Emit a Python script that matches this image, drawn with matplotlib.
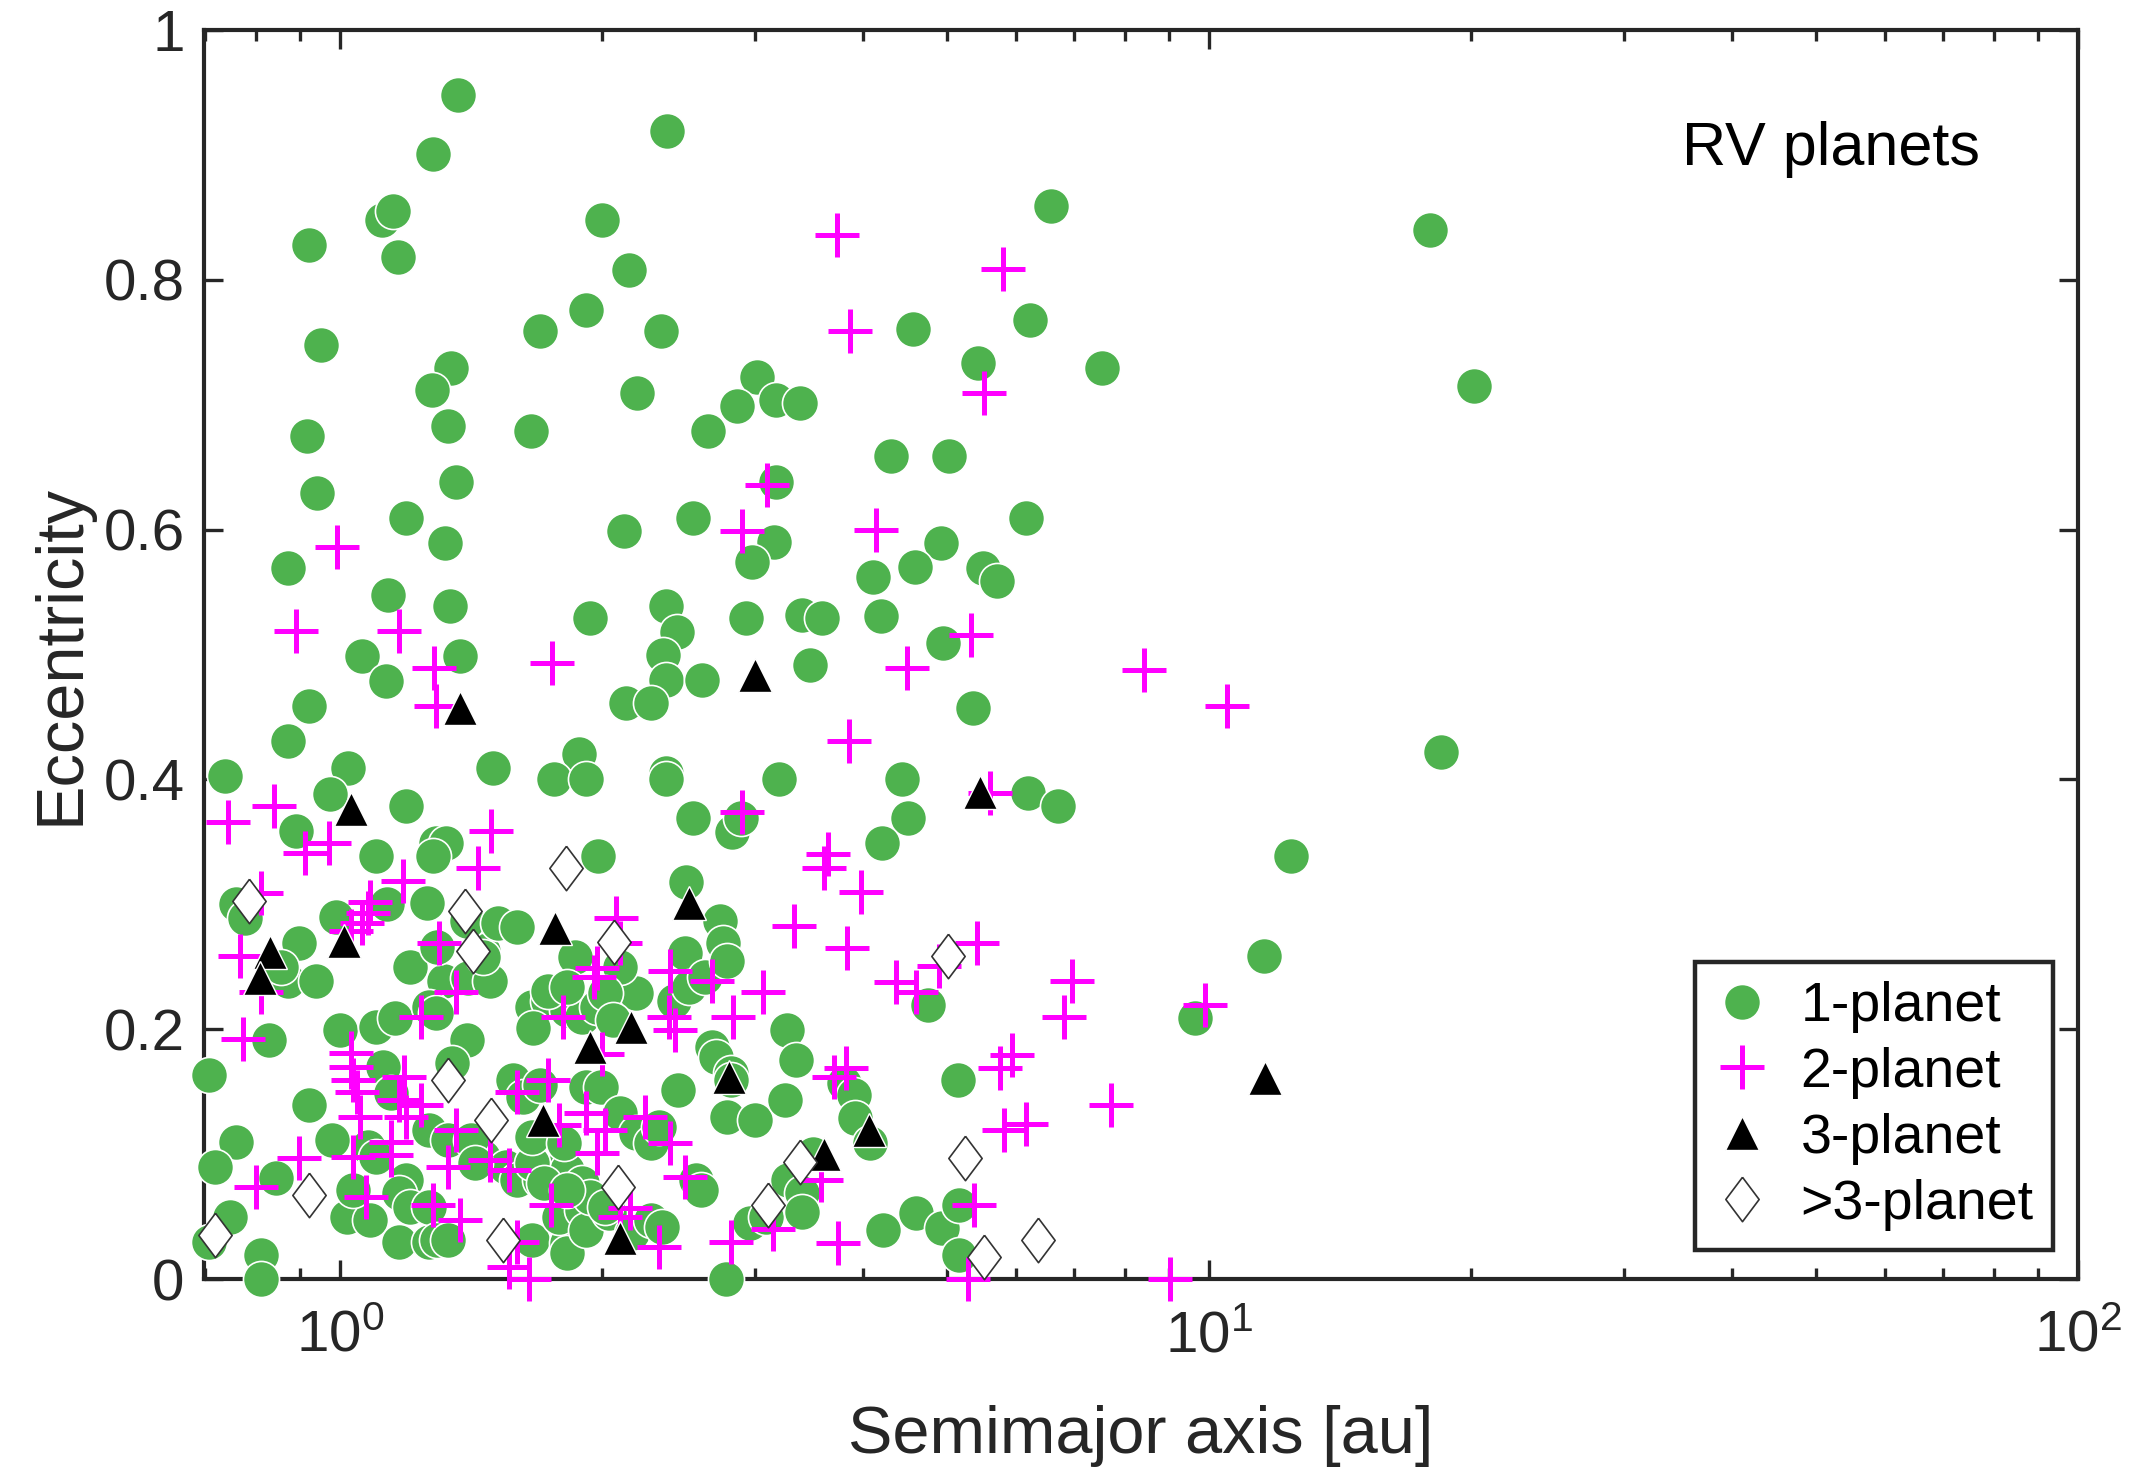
import matplotlib
matplotlib.use("Agg")
import matplotlib.pyplot as plt
from matplotlib.ticker import LogLocator, FixedLocator, NullLocator, LogFormatterSciNotation

plt.rcParams['font.family'] = ['Liberation Sans', 'DejaVu Sans']
plt.rcParams['mathtext.fontset'] = 'custom'
plt.rcParams['mathtext.rm'] = 'Liberation Sans'
plt.rcParams['mathtext.it'] = 'Liberation Sans:italic'
plt.rcParams['mathtext.bf'] = 'Liberation Sans:bold'
plt.rcParams['mathtext.default'] = 'regular'

# ---------------- data: (semimajor axis [au], eccentricity) ----------------
a1 = [1.366, 2.376, 1.279, 1.119, 1.150, 0.921, 1.166, 2.0, 2.149, 1.919, 1.697, 2.338,
      0.951, 1.341, 1.275, 2.199, 3.015, 2.863, 3.178, 3.38, 2.654, 1.331, 1.658, 0.917,
      6.58, 4.565, 6.22, 5.42, 7.53,
      17.97, 20.2, 18.5, 12.41, 11.57, 9.63,
      0.941, 1.359, 1.19, 1.32, 0.871, 1.135, 1.34, 1.06, 1.129, 1.373, 0.921, 0.871,
      0.738, 1.021, 0.973, 1.498, 1.19, 0.89, 1.886, 1.765, 1.919, 2.371, 2.371, 3.20,
      2.546, 2.823, 2.893, 1.98, 1.099, 1.288, 1.326, 1.28, 2.50, 3.176, 2.549, 2.121,
      3.16, 2.98, 1.94, 2.371, 2.44, 2.352, 2.371, 2.61, 2.134, 2.279, 2.93,
      4.31, 5.02, 6.16, 4.92, 4.59, 4.10, 5.50, 5.70, 3.40, 3.59, 4.19, 3.47, 4.94,
      5.35, 4.43, 4.50, 4.20, 6.19, 6.70,
      0.76, 0.777, 0.897, 0.872, 0.856, 0.939, 0.829, 0.707, 0.99, 1.133, 1.26, 1.0,
      1.099, 1.158, 1.121, 1.144, 0.92, 0.76, 0.718, 0.844, 0.748, 0.707, 0.811, 0.811,
      0.978, 1.077, 1.099, 1.018, 1.082, 1.168, 1.266, 1.204, 1.319, 1.402, 1.489,
      1.292, 1.46, 1.40, 1.52, 1.60, 1.46, 1.266, 1.29, 1.40, 1.346, 1.266, 1.332,
      1.46, 1.551, 1.60, 1.699, 1.734, 1.19, 1.168, 1.204, 1.266, 1.292, 1.332, 1.415,
      1.43, 1.665, 1.824, 1.824, 1.788, 1.899, 1.919, 2.04, 2.167, 2.28, 2.35, 2.778,
      2.967, 3.09, 1.824, 1.899, 1.937, 2.018, 1.665, 1.716, 1.824, 1.665, 1.734,
      1.824, 1.899, 1.978, 2.08, 2.19, 1.862, 1.734, 1.824, 2.10, 2.018, 2.06, 1.919,
      1.995, 2.10, 2.19, 2.28, 2.33, 2.497, 2.42, 2.52, 2.63, 2.735, 2.76, 2.79, 2.68,
      2.71, 2.82, 2.82, 2.79, 3.0, 2.45, 2.57, 2.60, 3.27, 3.35, 3.25, 3.28, 1.58,
      1.665, 1.81, 1.034, 1.668, 1.625, 1.70,
      4.75, 5.14, 3.80, 3.90, 3.91, 4.07, 3.5, 3.40, 3.40, 4.21, 4.60, 4.93, 5.15, 5.16]
e1 = [0.948, 0.919, 0.901, 0.848, 0.855, 0.828, 0.818, 0.848, 0.808, 0.776, 0.759, 0.759,
      0.748, 0.729, 0.712, 0.709, 0.722, 0.699, 0.704, 0.701, 0.679, 0.683, 0.679, 0.675,
      0.859, 0.761, 0.768, 0.733, 0.729,
      0.84, 0.715, 0.422, 0.339, 0.259, 0.209,
      0.629, 0.638, 0.609, 0.589, 0.569, 0.548, 0.539, 0.499, 0.479, 0.499, 0.459, 0.431,
      0.403, 0.409, 0.388, 0.409, 0.379, 0.359, 0.42, 0.40, 0.40, 0.405, 0.40, 0.40,
      0.369, 0.358, 0.369, 0.339, 0.339, 0.349, 0.349, 0.339, 0.318, 0.638, 0.609, 0.599,
      0.59, 0.574, 0.529, 0.539, 0.518, 0.50, 0.48, 0.48, 0.461, 0.461, 0.529,
      0.659, 0.659, 0.609, 0.589, 0.570, 0.562, 0.569, 0.559, 0.532, 0.529, 0.531, 0.492, 0.509,
      0.457, 0.40, 0.369, 0.349, 0.389, 0.379,
      0.30, 0.289, 0.269, 0.239, 0.25, 0.239, 0.191, 0.163, 0.29, 0.30, 0.301, 0.199,
      0.202, 0.209, 0.17, 0.149, 0.139, 0.11, 0.09, 0.081, 0.05, 0.03, 0.019, 0.0,
      0.111, 0.106, 0.098, 0.05, 0.047, 0.03, 0.03, 0.25, 0.239, 0.241, 0.239,
      0.266, 0.263, 0.287, 0.285, 0.282, 0.258, 0.218, 0.213, 0.191, 0.173, 0.119, 0.111,
      0.098, 0.09, 0.079, 0.079, 0.085, 0.079, 0.069, 0.058, 0.058, 0.031, 0.031, 0.111,
      0.093, 0.031, 0.029, 0.021, 0.05, 0.055, 0.039, 0.053, 0.037, 0.047, 0.042, 0.0,
      0.045, 0.05, 0.087, 0.077, 0.066, 0.058, 0.093, 0.077, 0.071, 0.218, 0.223,
      0.215, 0.21, 0.218, 0.221, 0.229, 0.258, 0.231, 0.234, 0.25, 0.229, 0.207, 0.154,
      0.154, 0.133, 0.117, 0.109, 0.122, 0.261, 0.223, 0.234, 0.242, 0.287, 0.269, 0.255, 0.186,
      0.178, 0.165, 0.159, 0.13, 0.127, 0.151, 0.079, 0.071, 0.199, 0.175, 0.143, 0.079, 0.159,
      0.114, 0.109, 0.071, 0.201, 0.146, 0.155,
      0.219, 0.159, 0.157, 0.147, 0.129, 0.109, 0.10, 0.069, 0.054, 0.039, 0.053, 0.041, 0.059, 0.019]

a2 = [3.73, 5.79, 3.86, 5.51,
      3.1, 2.90, 0.992, 0.89, 1.169, 1.282, 1.29, 1.753, 0.744, 0.84, 0.912, 0.971,
      1.492, 1.44, 1.181, 2.90,
      4.14, 5.32, 4.49, 8.42, 10.5, 3.85, 5.6, 3.64, 3.61, 3.98,
      3.33, 3.83, 4.36, 4.60, 4.89, 5.41, 6.96, 6.81, 9.89, 5.93, 5.75, 7.71, 5.81,
      6.16, 3.82, 3.70, 3.58, 3.74, 5.36, 5.28, 9.02,
      0.811, 1.082, 1.077, 1.06, 1.029, 0.767, 0.811, 0.773, 1.299, 1.359, 1.239,
      1.029, 1.029, 1.034, 1.045, 1.055, 1.034, 1.186, 1.168, 1.24, 1.19, 0.897, 0.80,
      1.071, 1.144, 1.144, 1.359, 1.332, 1.49, 1.566, 1.279, 1.373, 1.60, 1.566, 1.65,
      2.08, 2.10, 1.978, 1.96, 1.805, 1.734, 1.60, 2.0, 1.919, 2.02, 1.978, 1.788,
      2.245, 2.40, 2.40, 2.68, 2.39, 2.43, 3.07, 2.83, 1.75, 2.157, 2.33, 2.495, 2.82,
      3.15, 2.10]
e2 = [0.836, 0.809, 0.759, 0.709,
      0.636, 0.599, 0.586, 0.519, 0.519, 0.489, 0.459, 0.493, 0.366, 0.379, 0.341, 0.349,
      0.359, 0.329, 0.319, 0.374,
      0.60, 0.516, 0.489, 0.488, 0.459, 0.431, 0.389, 0.34, 0.329, 0.31,
      0.283, 0.265, 0.238, 0.23, 0.251, 0.269, 0.239, 0.21, 0.219, 0.179, 0.169, 0.139, 0.119,
      0.124, 0.169, 0.162, 0.079, 0.029, 0.059, 0.0, 0.0,
      0.309, 0.302, 0.293, 0.285, 0.279, 0.259, 0.23, 0.192, 0.269, 0.23, 0.21,
      0.181, 0.17, 0.159, 0.15, 0.13, 0.098, 0.162, 0.143, 0.139, 0.13, 0.097, 0.074,
      0.066, 0.11, 0.099, 0.119, 0.09, 0.095, 0.087, 0.059, 0.047, 0.03, 0.01, 0.0,
      0.289, 0.269, 0.249, 0.242, 0.21, 0.159, 0.15, 0.18, 0.133, 0.119, 0.101, 0.123,
      0.13, 0.109, 0.247, 0.239, 0.21, 0.199, 0.23, 0.21, 0.059, 0.057, 0.026, 0.082, 0.03,
      0.04, 0.05]

a3 = [1.373, 3.0, 1.03, 0.83, 0.81, 1.011, 1.766, 2.52, 2.163, 1.94, 1.713, 2.806,
      2.10, 5.45, 11.6, 4.06, 3.61]
e3 = [0.457, 0.484, 0.376, 0.262, 0.241, 0.271, 0.281, 0.301, 0.202, 0.186, 0.127, 0.162,
      0.033, 0.39, 0.161, 0.119, 0.10]

a4 = [1.818, 0.786, 1.392, 1.424, 2.066, 1.332, 1.494, 0.92, 0.718, 1.54, 2.087, 3.105,
      3.38, 5.01, 5.24, 5.51, 6.36]
e4 = [0.329, 0.303, 0.295, 0.263, 0.27, 0.159, 0.127, 0.067, 0.035, 0.031, 0.074, 0.059,
      0.094, 0.259, 0.097, 0.018, 0.031]

labels = ['1-planet', '2-planet', '3-planet', '>3-planet']
x_ticks = [1, 10, 100]
y_ticks = [0, 0.2, 0.4, 0.6, 0.8, 1]
y_ticklabels = ['0', '0.2', '0.4', '0.6', '0.8', '1']

# ---------------- figure ----------------
AX = '#262626'
fig = plt.figure(figsize=(2134 / 200, 1471 / 200), dpi=200)
ax = fig.add_axes([0.0956, 0.1305, 0.8782, 0.8491])

ax.plot(a1, e1, linestyle='none', marker='o', ms=13, mfc='#4EB24E', mec='white',
        mew=0.6, zorder=3, clip_on=False, label=labels[0])
ax.plot(a2, e2, linestyle='none', marker='+', ms=15.5, mec='#FF00FF', mew=1.8,
        zorder=4, clip_on=False, label=labels[1])
ax.plot(a3, e3, linestyle='none', marker='^', ms=12.5, mfc='black', mec='white',
        mew=0.5, zorder=5, clip_on=False, label=labels[2])
diamond = [(0, 1), (0.75, 0), (0, -1), (-0.75, 0), (0, 1)]
ax.plot(a4, e4, linestyle='none', marker=diamond, ms=16, mfc='white', mec='#333333',
        mew=0.6, zorder=6, clip_on=False, label=labels[3])

ax.set_xscale('log')
ax.set_xlim(0.6975, 100)
ax.set_ylim(0, 1)
ax.xaxis.set_major_locator(FixedLocator(x_ticks))
ax.xaxis.set_major_formatter(LogFormatterSciNotation())
ax.xaxis.set_minor_locator(LogLocator(base=10, subs=range(2, 10), numticks=20))
ax.set_yticks(y_ticks)
ax.set_yticklabels(y_ticklabels)
ax.yaxis.set_minor_locator(NullLocator())

for s in ax.spines.values():
    s.set_linewidth(1.5)
    s.set_color(AX)
ax.tick_params(which='both', direction='in', top=True, right=True, color=AX,
               labelcolor=AX, labelsize=21)
ax.tick_params(which='major', length=7, width=1.2)
ax.tick_params(which='minor', length=4, width=1.2)
ax.tick_params(axis='x', which='major', pad=11)
ax.tick_params(axis='y', which='major', pad=7)

ax.set_xlabel('Semimajor axis [au]', fontsize=24, color=AX, labelpad=15)
ax.set_ylabel('Eccentricity', fontsize=24, color=AX, labelpad=4)

ax.text(0.868, 0.904, 'RV planets', transform=ax.transAxes, fontsize=22,
        ha='center', va='center', color='black')

leg = ax.legend(loc='lower right', bbox_to_anchor=(0.9867, 0.0232), borderaxespad=0,
                fontsize=20, numpoints=1, handlelength=1.0, handletextpad=0.55,
                labelspacing=0.25, borderpad=0.35, fancybox=False, framealpha=1)
leg.get_frame().set_edgecolor(AX)
leg.get_frame().set_linewidth(1.6)
leg.set_zorder(10)

fig.savefig('out.png', dpi=200)
